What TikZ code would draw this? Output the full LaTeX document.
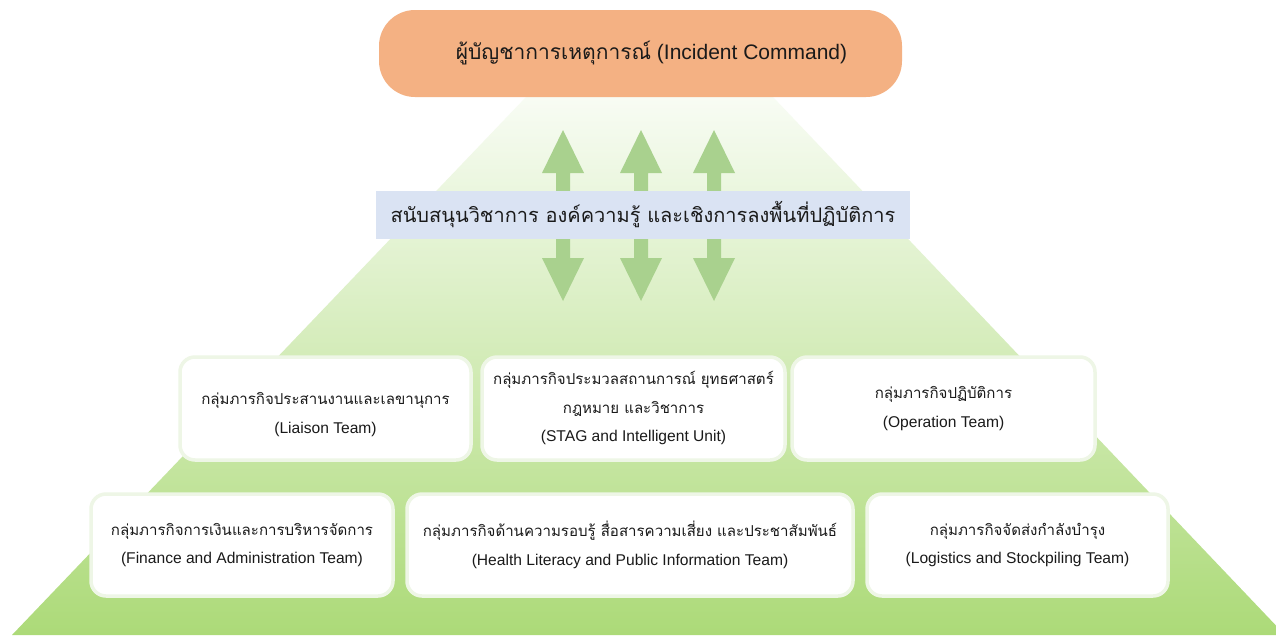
\documentclass[tikz,border=0pt]{standalone}
\usepackage{fontspec}
\setmainfont{Liberation Sans}
\newfontfamily\thai[Script=Thai]{Loma}
\newfontfamily\thaibox[Script=Thai,Scale=0.965]{Loma}
\definecolor{salmon}{HTML}{F4B183}
\definecolor{bandblue}{HTML}{DAE3F3}
\definecolor{arrowgreen}{HTML}{A9D18E}
\definecolor{boxborder}{HTML}{EEF6E6}
\definecolor{txt}{HTML}{1A1A1A}
\definecolor{pyrtop}{RGB}{248,252,244}
\definecolor{pyrbot}{RGB}{172,218,120}
\begin{document}
\begin{tikzpicture}[x=1pt,y=-1pt,
  icbox/.style={fill=salmon, rounded corners=36pt, minimum width=523pt, minimum height=87pt, inner sep=0pt, text=txt, font=\fontsize{21}{24}\selectfont},
  band/.style={fill=bandblue, minimum width=534pt, minimum height=48pt, inner sep=0pt, text=txt, font=\fontsize{20}{24}\selectfont},
  team/.style={draw=boxborder, line width=3.5pt, fill=white, rounded corners=15pt, inner sep=0pt, align=center, text=txt, font=\fontsize{15.6}{28.5}\selectfont},
  dblarrow/.style={fill=arrowgreen}
]
\useasboundingbox (0,0) rectangle (1276,635);
\fill[white] (0,0) rectangle (1276,635);
\shade[top color=pyrtop, bottom color=pyrbot] (526,97) -- (773,97) -- (1285,635) -- (12,635) -- cycle;
\foreach \ax in {563,641,714} {
  \fill[dblarrow] (\ax,130) -- (\ax+21,173) -- (\ax+7,173) -- (\ax+7,258) -- (\ax+21,258) -- (\ax,301) -- (\ax-21,258) -- (\ax-7,258) -- (\ax-7,173) -- (\ax-21,173) -- cycle;
}
\node[icbox] (ic) at (640.5,53.5) {\hspace*{22pt}{\thai ผู้บัญชาการเหตุการณ์} (Incident Command)};
\node[band] (support) at (643,214.5) {\thai สนับสนุนวิชาการ องค์ความรู้ และเชิงการลงพื้นที่ปฏิบัติการ};
\node[team, minimum width=291pt, minimum height=103pt] (liaison) at (325.5,408.5) {\rule{0pt}{24pt}{\thaibox กลุ่มภารกิจประสานงานและเลขานุการ}\\(Liaison Team)};
\node[team, minimum width=303pt, minimum height=103pt] (stag) at (633.5,408.5) {{\thaibox กลุ่มภารกิจประมวลสถานการณ์ ยุทธศาสตร์}\\{\thaibox กฎหมาย และวิชาการ}\\(STAG and Intelligent Unit)};
\node[team, minimum width=303pt, minimum height=103pt] (oper) at (943.5,408.5) {{\thaibox กลุ่มภารกิจปฏิบัติการ}\\(Operation Team)};
\node[team, minimum width=302pt, minimum height=102pt] (finance) at (242,545) {{\thaibox กลุ่มภารกิจการเงินและการบริหารจัดการ}\\(Finance and Administration Team)};
\node[team, minimum width=446pt, minimum height=102pt] (health) at (630,545) {{\thaibox กลุ่มภารกิจด้านความรอบรู้ สื่อสารความเสี่ยง และประชาสัมพันธ์}\\(Health Literacy and Public Information Team)};
\node[team, minimum width=301pt, minimum height=102pt] (logis) at (1017.5,545) {{\thaibox กลุ่มภารกิจจัดส่งกำลังบำรุง}\\(Logistics and Stockpiling Team)};
\end{tikzpicture}
\end{document}
